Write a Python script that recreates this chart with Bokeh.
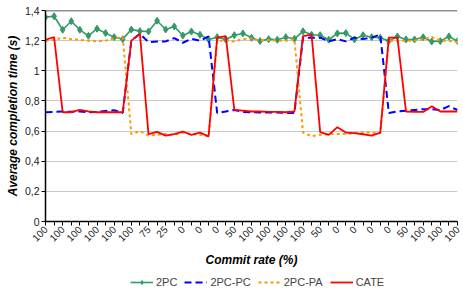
import math
from bokeh.plotting import figure
from bokeh.layouts import column
from bokeh.models import Range1d, FixedTicker, Span, Legend, LegendItem
from bokeh.embed import file_html
from bokeh.resources import INLINE

# category index 0..48 ; labels shown on every second category
x_labels = ["100", "100", "100", "100", "100", "100", "75", "25", "0", "0", "0", "50",
            "100", "100", "100", "100", "50", "0", "0", "0", "0", "50", "100", "100", "100"]
y_ticks = [0, 0.2, 0.4, 0.6, 0.8, 1.0, 1.2, 1.4]
y_tick_labels = ["0", "0,2", "0,4", "0,6", "0,8", "1", "1,2", "1,4"]
series_names = ["2PC", "2PC-PC", "2PC-PA", "CATE"]

two_pc = [1.356, 1.362, 1.272, 1.329, 1.272, 1.232, 1.279, 1.250, 1.223, 1.210,
          1.274, 1.263, 1.261, 1.332, 1.274, 1.294, 1.234, 1.261, 1.239, 1.208,
          1.223, 1.208, 1.236, 1.248, 1.219, 1.197, 1.210, 1.206, 1.223, 1.212,
          1.262, 1.239, 1.236, 1.206, 1.248, 1.250, 1.208, 1.236, 1.223, 1.219,
          1.197, 1.228, 1.208, 1.208, 1.223, 1.194, 1.197, 1.228, 1.197]
two_pc_pc = [0.725, 0.727, 0.730, 0.728, 0.730, 0.725, 0.727, 0.733, 0.738, 0.720,
             1.200, 1.245, 1.190, 1.195, 1.195, 1.217, 1.186, 1.212, 1.200, 1.228,
             0.720, 0.730, 0.740, 0.727, 0.725, 0.723, 0.723, 0.723, 0.720, 0.720,
             1.220, 1.220, 1.220, 1.195, 1.210, 1.195, 1.220, 1.210, 1.220, 1.240,
             0.720, 0.730, 0.735, 0.740, 0.745, 0.745, 0.740, 0.765, 0.740]
two_pc_pa = [1.200, 1.205, 1.220, 1.210, 1.205, 1.200, 1.195, 1.200, 1.215, 1.225,
             0.580, 0.600, 0.570, 0.575, 0.580, 0.575, 0.590, 0.580, 0.575, 0.565,
             1.200, 1.200, 1.195, 1.210, 1.215, 1.200, 1.205, 1.200, 1.200, 1.210,
             0.590, 0.566, 0.575, 0.580, 0.580, 0.580, 0.585, 0.590, 0.590, 0.585,
             1.200, 1.200, 1.200, 1.200, 1.210, 1.225, 1.200, 1.200, 1.190]
cate = [1.206, 1.223, 0.725, 0.725, 0.740, 0.730, 0.725, 0.725, 0.725, 0.725,
        1.200, 1.245, 0.580, 0.595, 0.570, 0.580, 0.597, 0.575, 0.590, 0.565,
        1.220, 1.230, 0.740, 0.735, 0.730, 0.730, 0.727, 0.727, 0.725, 0.730,
        1.230, 1.240, 0.593, 0.575, 0.626, 0.590, 0.586, 0.579, 0.570, 0.590,
        1.220, 1.220, 0.730, 0.727, 0.727, 0.765, 0.730, 0.730, 0.730]

x = list(range(len(two_pc)))
FONT = "Liberation Sans"
GREEN, BLUE, ORANGE, RED = "#339966", "#0000ff", "#ff9900", "#ff0000"


def add_series(fig):
    r1 = fig.line(x, two_pc, line_color=GREEN, line_width=1.6)
    r1m = fig.scatter(x, two_pc, marker="diamond", size=7, fill_color=GREEN, line_color=GREEN)
    r2 = fig.line(x, two_pc_pc, line_color=BLUE, line_width=2, line_dash="7 4")
    r3 = fig.line(x, two_pc_pa, line_color=ORANGE, line_width=2, line_dash="3 3")
    r4 = fig.line(x, cate, line_color=RED, line_width=1.8)
    return [[r1, r1m], [r2], [r3], [r4]]


p = figure(width=463, height=270, x_range=Range1d(0, len(x) - 1), y_range=Range1d(0, 1.4),
           output_backend="svg", toolbar_location=None,
           min_border_left=45, min_border_right=6, min_border_top=10, min_border_bottom=49)
p.outline_line_color = None
p.background_fill_color = "white"

# axes
p.yaxis.ticker = FixedTicker(ticks=y_ticks)
p.yaxis.major_label_overrides = {t: l for t, l in zip(y_ticks, y_tick_labels)}
p.xaxis.ticker = FixedTicker(ticks=x)
ov = {}
for i in x:
    ov[i] = x_labels[i // 2] if i % 2 == 0 else ""
p.xaxis.major_label_overrides = ov
p.xaxis.major_label_orientation = math.pi / 4

for ax in (p.xaxis[0], p.yaxis[0]):
    ax.axis_line_color = "black"
    ax.axis_line_width = 1.5
    ax.major_tick_line_color = "black"
    ax.major_tick_in = 0
    ax.major_tick_out = 4
    ax.minor_tick_line_color = None
    ax.major_label_text_font = FONT
    ax.major_label_text_color = "#222222"
    ax.axis_label_text_font = FONT
    ax.axis_label_text_font_style = "bold italic"
    ax.axis_label_text_color = "black"
    ax.axis_label_text_font_size = "12px"
p.yaxis.major_label_text_font_size = "10.5px"
p.xaxis.major_label_text_font_size = "10px"
p.yaxis.major_label_standoff = 2
p.xaxis.major_label_standoff = 2
p.yaxis.axis_label_standoff = 2
p.xaxis.axis_label_standoff = 5
p.yaxis.axis_label = "Average completion time (s)"
p.xaxis.axis_label = "Commit rate (%)"

p.xgrid.grid_line_color = None
p.ygrid.ticker = FixedTicker(ticks=y_ticks[1:-1])
p.ygrid.grid_line_color = "#c8c8c8"
p.add_layout(Span(location=1.4, dimension="width", line_color="#222222", line_width=1.5))

add_series(p)

# legend strip underneath (same series, drawn outside its visible range)
lg = figure(width=463, height=21, x_range=Range1d(0, 1), y_range=Range1d(10, 11),
            output_backend="svg", toolbar_location=None, x_axis_type=None, y_axis_type=None,
            min_border=0)
lg.outline_line_color = None
lg.grid.grid_line_color = None
rends = add_series(lg)
legend = Legend(items=[LegendItem(label=n, renderers=r) for n, r in zip(series_names, rends)],
                orientation="horizontal", location=(85, 3))
legend.border_line_color = None
legend.background_fill_alpha = 0
legend.label_text_font = FONT
legend.label_text_font_size = "11px"
legend.glyph_width = 23
legend.glyph_height = 10
legend.label_standoff = 3
legend.spacing = 7
legend.padding = 2
legend.margin = 0
lg.add_layout(legend, "center")

layout = column(p, lg, spacing=0)
open("out.html", "w").write(file_html(layout, INLINE))
